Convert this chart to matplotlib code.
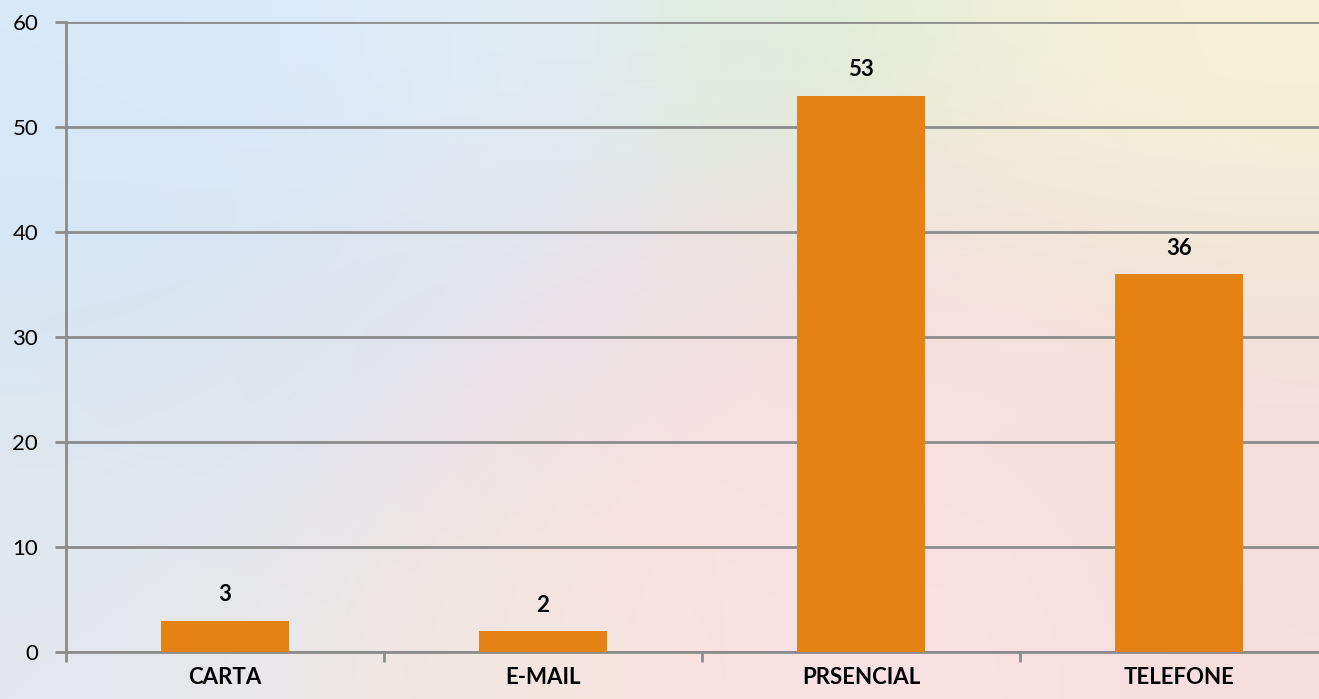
import numpy as np
import matplotlib
matplotlib.use("Agg")
import matplotlib.pyplot as plt
from matplotlib.colors import to_rgb

categories = ["CARTA", "E-MAIL", "PRSENCIAL", "TELEFONE"]
values = [3, 2, 53, 36]
yticks = [0, 10, 20, 30, 40, 50, 60]

BAR = "#E48214"
GRID = "#8C8C8C"
FONT = "Lato"

fig = plt.figure(figsize=(13.19, 6.99), dpi=100)

# soft blurred background
bg = fig.add_axes([0, 0, 1, 1], zorder=-10)
bg_colors = [
    ["#d8e8f8", "#dcebfa", "#e2eef6", "#dcecd8", "#eef0d8", "#f7f2d6"],
    ["#d6e6f4", "#d8e4f0", "#e4e2ea", "#f2dfe0", "#f6e2dc", "#f0e6d8"],
    ["#dce6ee", "#e2e4ec", "#f4e2e4", "#f8dfe2", "#f9e0e2", "#f4dcdc"],
    ["#e4e8ee", "#ece8e8", "#f6e6dc", "#fae2e4", "#fbe2e6", "#f6dede"],
]
grid = np.array([[to_rgb(c) for c in row] for row in bg_colors])
bg.imshow(grid, aspect="auto", interpolation="bicubic", extent=[0, 1, 0, 1])
bg.set_axis_off()

ax = fig.add_axes([66 / 1319, (699 - 652) / 699, (1338 - 66) / 1319, 630 / 699])
ax.patch.set_alpha(0)
x = np.arange(len(categories))
ax.bar(x, values, width=0.4, color=BAR, zorder=3)
ax.set_xlim(-0.5, len(categories) - 0.5)
ax.set_ylim(0, 60)
ax.set_yticks(yticks)
ax.yaxis.grid(True, color=GRID, linewidth=2, zorder=0)
ax.set_axisbelow(True)

for s in ["top", "right"]:
    ax.spines[s].set_visible(False)
for s in ["left", "bottom"]:
    ax.spines[s].set_color(GRID)
    ax.spines[s].set_linewidth(2)

ax.set_xticks(np.arange(len(categories) + 1) - 0.5, minor=False)
ax.set_xticklabels([])
ax.set_xticks(x, minor=True)
ax.set_xticklabels(categories, minor=True, fontsize=16, fontweight="bold",
                   family=FONT)
ax.tick_params(axis="x", which="major", length=7, width=2, color=GRID, direction="out")
ax.tick_params(axis="x", which="minor", length=0, pad=11)
ax.tick_params(axis="y", length=8, width=2, color=GRID, labelsize=16, pad=12)
for lab in ax.get_yticklabels():
    lab.set_family(FONT)

for xi, v in zip(x, values):
    ax.annotate(str(v), (xi, v), xytext=(0, 11), textcoords="offset points",
                ha="center", va="bottom", fontsize=16, fontweight="bold",
                family=FONT)

fig.savefig("out.png", dpi=100)
